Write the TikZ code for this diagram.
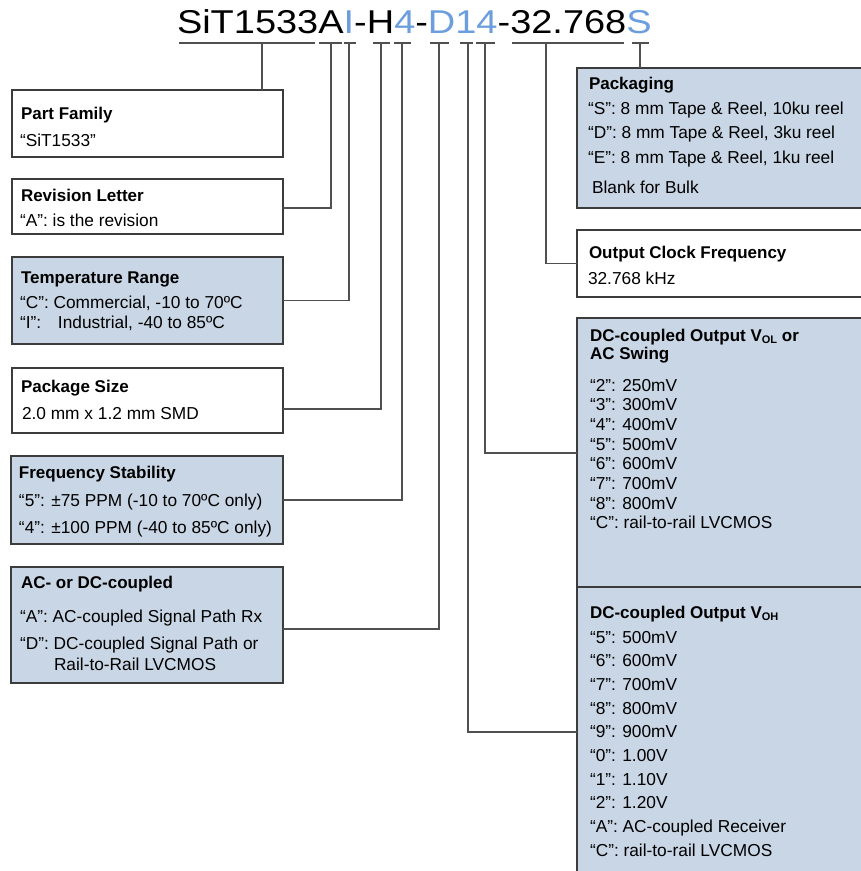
\documentclass[tikz,border=0pt]{standalone}
\usepackage{fontspec}
\setmainfont{Liberation Sans}
\definecolor{bluef}{RGB}{201,214,229}
\definecolor{boxc}{RGB}{60,60,60}
\definecolor{linec}{RGB}{80,80,80}
\definecolor{titleblue}{RGB}{108,158,222}
\newcommand\tline[5]{\node[#1] (#2) at (#3,#4) {#5};}
\newcommand\subsc[1]{\raisebox{-2.5pt}{\fontsize{11}{11}\selectfont #1}}
\begin{document}
\begin{tikzpicture}[x=1pt,y=-1pt,
  box/.style={draw=boxc, line width=1.2pt, anchor=north west, inner sep=0pt, outer sep=0pt},
  wbox/.style={box, fill=white},
  bbox/.style={box, fill=bluef},
  conn/.style={draw=linec, line width=1.2pt},
  uline/.style={draw=linec, line width=1.2pt},
  txt/.style={anchor=base west, inner sep=0pt, outer sep=0pt, font=\fontsize{17.3}{20}\selectfont},
  hd/.style={txt, font=\fontsize{17}{20}\selectfont\bfseries},
  ttl/.style={anchor=base west, inner sep=0pt, outer sep=0pt, xscale=1.15, transform shape, font=\fontsize{33}{36}\selectfont},
]
\useasboundingbox (0,0) rectangle (861,871);

% title
\node[ttl] (t1) at (177,33) {SiT1533A};
\node[ttl, text=titleblue] (t2) at (t1.base east) {I};
\node[ttl] (t3) at (t2.base east) {-H};
\node[ttl, text=titleblue] (t4) at (t3.base east) {4};
\node[ttl] (t5) at (t4.base east) {-};
\node[ttl, text=titleblue] (t6) at (t5.base east) {D14};
\node[ttl] (t7) at (t6.base east) {-32.768};
\node[ttl, text=titleblue] (t8) at (t7.base east) {S};

% underlines
\draw[uline] (179,43) -- (315,43);
\draw[uline] (319,43) -- (342,43);
\draw[uline] (343.5,43) -- (356,43);
\draw[uline] (373,43) -- (390,43);
\draw[uline] (394,43) -- (411,43);
\draw[uline] (430,43) -- (449,43);
\draw[uline] (460,43) -- (473,43);
\draw[uline] (476,43) -- (495,43);
\draw[uline] (512,43) -- (624,43);
\draw[uline] (632,43) -- (649,43);

\coordinate (cSiT) at (262,43);
\coordinate (cA) at (331,43);
\coordinate (cI) at (349,43);
\coordinate (cH) at (381,43);
\coordinate (c4) at (402,43);
\coordinate (cD) at (439,43);
\coordinate (c1) at (468,43);
\coordinate (c4b) at (485,43);
\coordinate (cF) at (546,43);
\coordinate (cS) at (640,43);

% boxes
\node[wbox, minimum width=271, minimum height=67] (pf) at (12,90) {};
\node[wbox, minimum width=271, minimum height=55] (rev) at (12,179) {};
\node[bbox, minimum width=271, minimum height=87] (temp) at (12,257) {};
\node[wbox, minimum width=271, minimum height=65] (ps) at (12,368) {};
\node[bbox, minimum width=272, minimum height=88] (fs) at (11,456) {};
\node[bbox, minimum width=272, minimum height=116] (acdc) at (11,567) {};
\node[bbox, minimum width=300, minimum height=140] (pkg) at (577,68) {};
\node[wbox, minimum width=300, minimum height=67] (ocf) at (577,230) {};
\node[bbox, minimum width=300, minimum height=286] (vol) at (577,318) {};
\node[bbox, minimum width=300, minimum height=290] (voh) at (577,587) {};

% connectors
\draw[conn] (cSiT) -- (cSiT |- pf.north);
\draw[conn] (cA) |- ([yshift=-1.5pt]rev.east);
\draw[conn] (cI) |- (temp.east);
\draw[conn] (cH) |- ([yshift=-8.5pt]ps.east);
\draw[conn] (c4) |- (fs.east);
\draw[conn] (cD) |- ([yshift=-4pt]acdc.east);
\draw[conn] (c1) |- (voh.west);
\draw[conn] (c4b) |- ([yshift=8pt]vol.west);
\draw[conn] (cF) |- (ocf.west);
\draw[conn] (cS) -- (cS |- pkg.north);

% left texts
\tline{hd}{pf1}{21}{119}{Part Family}
\tline{txt}{pf2}{20}{146}{“SiT1533”}
\tline{hd}{rv1}{21}{201}{Revision Letter}
\tline{txt}{rv2}{20}{226}{“A”: is the revision}
\tline{hd}{tp1}{21}{283}{Temperature Range}
\tline{txt}{tp2}{20}{308}{“C”: Commercial, -10 to 70ºC}
\tline{txt}{tp3}{20}{328}{\makebox[38pt][l]{“I”:}Industrial, -40 to 85ºC}
\tline{hd}{ps1}{21}{392}{Package Size}
\tline{txt}{ps2}{22}{419}{2.0 mm x 1.2 mm SMD}
\tline{hd}{fs1}{19}{478}{Frequency Stability}
\tline{txt}{fs2}{19}{506}{“5”: ±75 PPM (-10 to 70ºC only)}
\tline{txt}{fs3}{19}{533}{“4”: ±100 PPM (-40 to 85ºC only)}
\tline{hd}{ac1}{21}{588}{AC- or DC-coupled}
\tline{txt}{ac2}{20}{622}{“A”: AC-coupled Signal Path Rx}
\tline{txt}{ac3}{20}{649}{“D”: DC-coupled Signal Path or}
\tline{txt}{ac4}{54}{670}{Rail-to-Rail LVCMOS}

% right texts
\tline{hd}{pk1}{589}{89}{Packaging}
\tline{txt}{pk2}{588}{114}{“S”: 8 mm Tape \& Reel, 10ku reel}
\tline{txt}{pk3}{588}{138.5}{“D”: 8 mm Tape \& Reel, 3ku reel}
\tline{txt}{pk4}{588}{163}{“E”: 8 mm Tape \& Reel, 1ku reel}
\tline{txt}{pk5}{592}{193}{Blank for Bulk}
\tline{hd}{oc1}{589}{258}{Output Clock Frequency}
\tline{txt}{oc2}{588}{284}{32.768 kHz}

\tline{hd}{vl1}{590}{341}{DC-coupled Output V\subsc{OL} or}
\tline{hd}{vl2}{590}{359}{AC Swing}
\tline{txt}{vl3}{590}{391}{“2”: 250mV}
\tline{txt}{vl4}{590}{410.7}{“3”: 300mV}
\tline{txt}{vl5}{590}{430.4}{“4”: 400mV}
\tline{txt}{vl6}{590}{450.1}{“5”: 500mV}
\tline{txt}{vl7}{590}{469.8}{“6”: 600mV}
\tline{txt}{vl8}{590}{489.5}{“7”: 700mV}
\tline{txt}{vl9}{590}{509.2}{“8”: 800mV}
\tline{txt}{vl10}{590}{528.9}{“C”: rail-to-rail LVCMOS}

\tline{hd}{vh1}{590}{618}{DC-coupled Output V\subsc{OH}}
\tline{txt}{vh2}{590}{643}{“5”: 500mV}
\tline{txt}{vh3}{590}{666.7}{“6”: 600mV}
\tline{txt}{vh4}{590}{690.4}{“7”: 700mV}
\tline{txt}{vh5}{590}{714.1}{“8”: 800mV}
\tline{txt}{vh6}{590}{737.8}{“9”: 900mV}
\tline{txt}{vh7}{590}{761.5}{“0”: 1.00V}
\tline{txt}{vh8}{590}{785.2}{“1”: 1.10V}
\tline{txt}{vh9}{590}{808.9}{“2”: 1.20V}
\tline{txt}{vh10}{590}{832.6}{“A”: AC-coupled Receiver}
\tline{txt}{vh11}{590}{856.3}{“C”: rail-to-rail LVCMOS}
\end{tikzpicture}
\end{document}
